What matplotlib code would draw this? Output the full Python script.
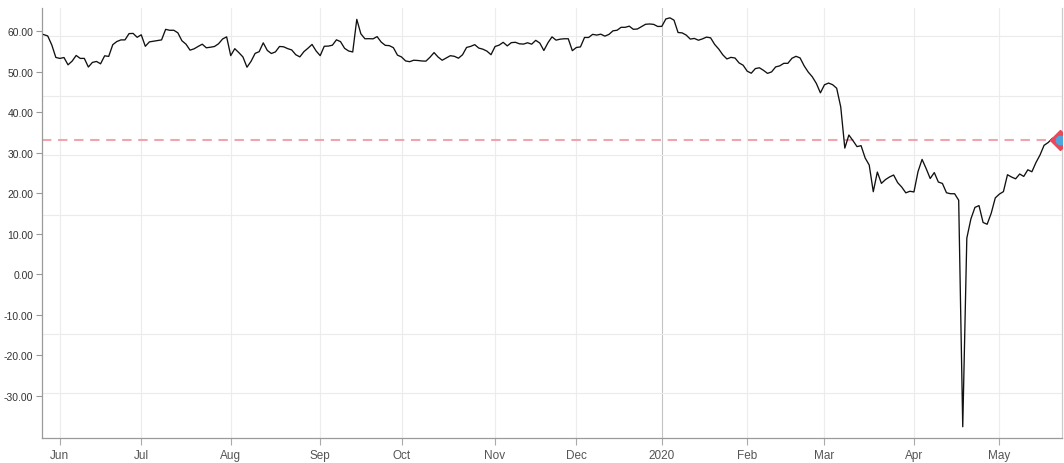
#!/usr/bin/env python3
"""
WTI crude daily close, late May 2019 to late May 2020,
drawn on a trading-day axis with the latest value marked.
"""
import pandas as pd
import matplotlib
matplotlib.use("Agg")
import matplotlib.pyplot as plt
from matplotlib.ticker import MultipleLocator, FormatStrFormatter

# Trading calendar: first and last session plus exchange holidays in between
first_session = "2019-05-28"
last_session = "2020-05-22"
market_holidays = [
    "2019-07-04", "2019-09-02", "2019-11-28", "2019-12-25",
    "2020-01-01", "2020-01-20", "2020-02-17", "2020-04-10",
]

# Daily close, one value per session (May 2019 tail ... May 2020)
wti_close = [
    # May 2019
    59.14, 58.81, 56.59, 53.50,
    # Jun
    53.26, 53.48, 51.68, 52.59, 53.99, 53.26, 53.27, 51.14, 52.28, 52.51,
    51.93, 53.90, 53.76, 56.65, 57.43, 57.83, 57.83, 59.38, 59.43, 58.47,
    # Jul
    59.09, 56.25, 57.34, 57.51, 57.66, 57.83, 60.43, 60.20, 60.21, 59.58,
    57.62, 56.78, 55.30, 55.63, 56.22, 56.77, 55.88, 56.02, 56.20, 56.87,
    58.05, 58.58,
    # Aug
    53.95, 55.66, 54.69, 53.63, 51.09, 52.54, 54.50, 54.93, 57.10, 55.23,
    54.47, 54.87, 56.21, 56.13, 55.68, 55.35, 54.17, 53.64, 54.93, 55.78,
    56.71, 55.10,
    # Sep
    53.94, 56.26, 56.30, 56.52, 57.85, 57.40, 55.75, 55.09, 54.85, 62.90,
    59.34, 58.11, 58.13, 58.09, 58.64, 57.29, 56.49, 56.41, 55.91, 54.07,
    # Oct
    53.62, 52.64, 52.45, 52.81, 52.75, 52.63, 52.59, 53.55, 54.70, 53.59,
    52.81, 53.36, 53.93, 53.78, 53.31, 54.16, 55.97, 56.23, 56.66, 55.81,
    55.54, 55.06, 54.18,
    # Nov
    56.20, 56.54, 57.23, 56.35, 57.15, 57.24, 56.86, 56.80, 57.12, 56.77,
    57.72, 57.05, 55.21, 57.11, 58.58, 57.77, 58.01, 58.11, 58.11, 55.17,
    # Dec
    55.96, 56.10, 58.43, 58.43, 59.20, 59.02, 59.24, 58.76, 59.18, 60.07,
    60.21, 60.94, 60.93, 61.22, 60.44, 60.52, 61.11, 61.68, 61.76, 61.66,
    61.14,
    # Jan 2020
    61.17, 63.00, 63.27, 62.70, 59.65, 59.56, 59.02, 58.03, 58.19, 57.75,
    58.08, 58.52, 58.34, 56.71, 55.57, 54.15, 53.13, 53.52, 53.36, 52.15,
    51.58,
    # Feb
    50.11, 49.61, 50.75, 50.95, 50.32, 49.57, 49.94, 51.17, 51.42, 52.05,
    52.05, 53.29, 53.78, 53.38, 51.43, 49.90, 48.73, 47.09, 44.76,
    # Mar
    46.75, 47.18, 46.78, 45.90, 41.28, 31.13, 34.36, 32.98, 31.50, 31.73,
    28.70, 26.95, 20.37, 25.22, 22.43, 23.36, 24.01, 24.49, 22.60, 21.51,
    20.09, 20.48,
    # Apr
    20.31, 25.32, 28.34, 26.08, 23.63, 25.09, 22.76, 22.41, 20.11, 19.87,
    19.87, 18.27, -37.63, 8.91, 13.64, 16.50, 16.94, 12.78, 12.34, 15.06,
    18.84,
    # May
    19.78, 20.39, 24.56, 23.99, 23.55, 24.74, 24.14, 25.78, 25.29, 27.56,
    29.43, 31.82, 32.50, 33.49, 33.92, 33.25,
]

# Labelled price levels on the y axis
y_ticks = [-30, -20, -10, 0, 10, 20, 30, 40, 50, 60]


def main():
    sessions = pd.bdate_range(first_session, last_session, freq="C",
                              holidays=market_holidays)
    df = pd.DataFrame({"date": sessions, "close": wti_close})
    df["idx"] = range(len(df))

    # Ticks on the first session of every month after the first one
    month_key = df["date"].dt.to_period("M")
    firsts = df[month_key != month_key.shift()].iloc[1:]
    tick_pos = firsts["idx"].tolist()
    tick_lab = [d.strftime("%Y") if d.month == 1 else d.strftime("%b")
                for d in firsts["date"]]

    plt.rcParams["font.family"] = ["Liberation Sans", "DejaVu Sans"]
    fig = plt.figure(figsize=(10.64, 4.64), dpi=100)
    ax = fig.add_axes([0.0391, 0.0539, 0.959, 0.9267])

    ax.plot(df["idx"], df["close"], color="#111111", lw=0.95, zorder=3)

    last = df.iloc[-1]
    ax.axhline(last["close"], color="#f2a3b0", lw=1.5, ls=(0, (4.5, 3.2)),
               zorder=2)
    ax.plot(last["idx"], last["close"], marker="D", ms=10, color="#e64a5c",
            zorder=4)
    ax.plot(last["idx"], last["close"], marker="o", ms=6, color="#4da6de",
            zorder=5)

    ax.set_xlim(-0.5, 250.4)
    ax.set_ylim(-40.4, 65.7)

    ax.set_xticks(tick_pos)
    ax.set_xticklabels(tick_lab)
    ax.set_yticks(y_ticks)
    ax.yaxis.set_major_formatter(FormatStrFormatter("%.2f"))
    ax.yaxis.set_minor_locator(MultipleLocator(14.7))

    ax.set_axisbelow(True)
    ax.grid(axis="x", which="major", color="#ececec", lw=0.8)
    ax.grid(axis="y", which="minor", color="#ebebeb", lw=0.8)
    for line, lab in zip(ax.get_xgridlines(), tick_lab):
        if lab == "2020":
            line.set_color("#c4c4c4")

    ax.tick_params(axis="x", length=5, color="#aaaaaa", labelsize=8.5,
                   labelcolor="#555555", pad=3)
    ax.tick_params(axis="y", which="major", length=4, color="#999999",
                   labelsize=7.5, labelcolor="#333333", pad=2)
    ax.tick_params(axis="y", which="minor", length=0)

    for side in ("left", "bottom"):
        ax.spines[side].set_color("#9a9a9a")
        ax.spines[side].set_linewidth(0.9)
    ax.spines["right"].set_color("#cccccc")
    ax.spines["right"].set_linewidth(0.9)
    ax.spines["top"].set_visible(False)

    fig.savefig("out.png", dpi=100)


if __name__ == "__main__":
    main()
